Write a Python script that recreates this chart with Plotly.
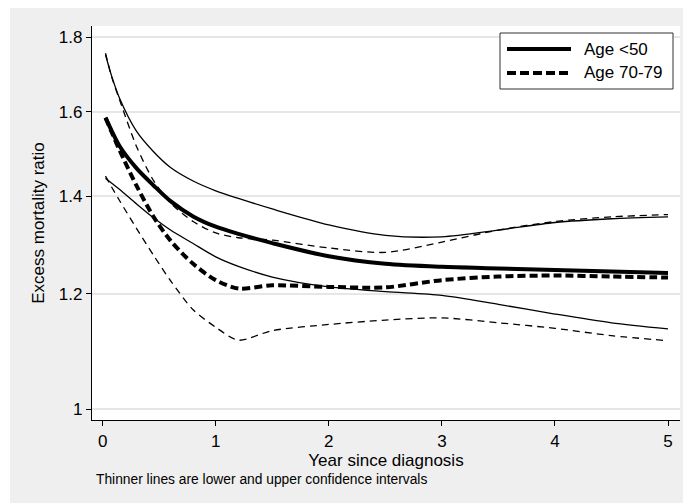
import plotly.graph_objects as go

# Years since diagnosis at which the curves are sampled
years = [0.025, 0.08, 0.15, 0.3, 0.45, 0.6, 0.8, 1.0, 1.2, 1.5, 2.0, 2.5, 3.0, 3.5, 4.0, 4.5, 5.0]

# Age <50: estimate with lower / upper confidence limits
lt50_est = [1.585, 1.552, 1.515, 1.463, 1.424, 1.389, 1.356, 1.334, 1.319, 1.30, 1.273, 1.258, 1.252, 1.249, 1.246, 1.243, 1.240]
lt50_lo = [1.44, 1.429, 1.415, 1.383, 1.353, 1.327, 1.299, 1.272, 1.253, 1.232, 1.213, 1.204, 1.197, 1.18, 1.162, 1.146, 1.135]
lt50_hi = [1.751, 1.692, 1.634, 1.551, 1.502, 1.465, 1.434, 1.412, 1.395, 1.372, 1.338, 1.316, 1.313, 1.327, 1.343, 1.351, 1.355]

# Age 70-79: estimate with lower / upper confidence limits
a7079_est = [1.585, 1.549, 1.505, 1.423, 1.355, 1.305, 1.258, 1.226, 1.21, 1.216, 1.213, 1.212, 1.226, 1.233, 1.235, 1.233, 1.231]
a7079_lo = [1.445, 1.42, 1.39, 1.33, 1.275, 1.225, 1.17, 1.138, 1.115, 1.132, 1.143, 1.151, 1.155, 1.146, 1.136, 1.123, 1.114]
a7079_hi = [1.755, 1.69, 1.63, 1.514, 1.435, 1.385, 1.345, 1.321, 1.311, 1.306, 1.29, 1.281, 1.302, 1.327, 1.345, 1.355, 1.36]

x_ticks = [0, 1, 2, 3, 4, 5]
y_ticks = [1, 1.2, 1.4, 1.6, 1.8]
y_tick_text = ["1", "1.2", "1.4", "1.6", "1.8"]
legend_labels = ["Age <50", "Age 70-79"]

FONT = "Liberation Sans, Arial, sans-serif"
W, H = 683, 503
L, R, T, B = 92, 3, 26, 83
PW, PH = W - L - R, H - T - B


def px_x(px):
    return (px - L) / PW


def px_y(py):
    return (H - B - py) / PH


fig = go.Figure()

series = [
    (lt50_lo, 1.3, "solid"),
    (lt50_hi, 1.3, "solid"),
    (a7079_lo, 1.3, "7px,5px"),
    (a7079_hi, 1.3, "7px,5px"),
    (lt50_est, 4, "solid"),
    (a7079_est, 4, "8px,4px"),
]
for vals, w, dash in series:
    fig.add_trace(go.Scatter(
        x=years, y=vals, mode="lines",
        line=dict(color="black", width=w, dash=dash, shape="spline", smoothing=0.8),
        showlegend=False, hoverinfo="skip",
    ))

shapes = [
    # white frame strips outside the grey graph region
    dict(type="rect", xref="paper", yref="paper", layer="below",
         x0=px_x(0), x1=px_x(10), y0=px_y(H), y1=px_y(0),
         fillcolor="white", line=dict(width=0)),
    dict(type="rect", xref="paper", yref="paper", layer="below",
         x0=px_x(0), x1=px_x(W), y0=px_y(8), y1=px_y(0),
         fillcolor="white", line=dict(width=0)),
    # legend box
    dict(type="rect", xref="paper", yref="paper",
         x0=px_x(500), x1=px_x(673), y0=px_y(89), y1=px_y(33),
         fillcolor="white", line=dict(color="#333333", width=1)),
    dict(type="line", xref="paper", yref="paper",
         x0=px_x(507), x1=px_x(571), y0=px_y(49), y1=px_y(49),
         line=dict(color="black", width=4)),
    dict(type="line", xref="paper", yref="paper",
         x0=px_x(507), x1=px_x(571), y0=px_y(73), y1=px_y(73),
         line=dict(color="black", width=4, dash="9px,4px")),
]

annotations = [
    dict(text=legend_labels[0], xref="paper", yref="paper", x=px_x(582), y=px_y(49),
         xanchor="left", yanchor="middle", showarrow=False,
         font=dict(family=FONT, size=17, color="black")),
    dict(text=legend_labels[1], xref="paper", yref="paper", x=px_x(582), y=px_y(73),
         xanchor="left", yanchor="middle", showarrow=False,
         font=dict(family=FONT, size=17, color="black")),
    dict(text="Thinner lines are lower and upper confidence intervals",
         xref="paper", yref="paper", x=px_x(94), y=px_y(479),
         xanchor="left", yanchor="middle", showarrow=False,
         font=dict(family=FONT, size=13.8, color="black")),
]

fig.update_layout(
    width=W, height=H,
    margin=dict(l=L, r=R, t=T, b=B, pad=0),
    paper_bgcolor="#efefef",
    plot_bgcolor="white",
    font=dict(family=FONT, size=17, color="black"),
    shapes=shapes,
    annotations=annotations,
    showlegend=False,
)

fig.update_xaxes(
    range=[-0.0946, 5.106],
    tickvals=x_ticks,
    ticks="outside", ticklen=5, tickwidth=1.2, tickcolor="black",
    showline=True, linecolor="black", linewidth=1.3,
    showgrid=False, zeroline=False,
    tickfont=dict(family=FONT, size=17, color="black"),
    title=dict(text="Year since diagnosis", standoff=3,
               font=dict(family=FONT, size=17, color="black")),
    automargin=False,
)

fig.update_yaxes(
    type="log",
    range=[-0.00755, 0.2630],
    tickvals=y_ticks, ticktext=y_tick_text,
    ticks="outside", ticklen=5, tickwidth=1.2, tickcolor="black",
    showline=True, linecolor="black", linewidth=1.3,
    showgrid=True, gridcolor="#e6e6e6", gridwidth=1.5,
    zeroline=False,
    tickfont=dict(family=FONT, size=17, color="black"),
    title=dict(text="Excess mortality ratio", standoff=9,
               font=dict(family=FONT, size=17, color="black")),
    automargin=False,
)

fig.write_html("out.html")
